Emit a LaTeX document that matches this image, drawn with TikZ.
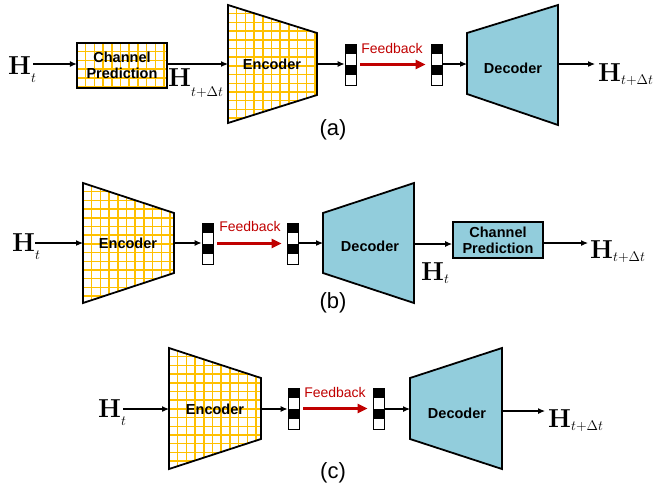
\RequirePackage{fix-cm}
\documentclass[tikz,border=0pt]{standalone}
\usepackage[no-math]{fontspec}
\newfontfamily\arial{Liberation Sans}
\usetikzlibrary{arrows.meta}
\definecolor{gridor}{RGB}{255,192,0}
\definecolor{decblue}{HTML}{92CDDC}
\definecolor{fbred}{HTML}{C00000}
\newcommand\Hsym[2]{{\fontsize{26}{26}\selectfont$\mathbf{H}$}\raisebox{#2}{\fontsize{14}{14}\selectfont$#1$}}
\tikzset{
  arr/.style={-{Latex[length=7pt,width=6pt]}, line width=1.1pt},
  fbarr/.style={-{Triangle[length=10pt,width=9pt]}, line width=2.6pt, draw=fbred},
  blk/.style={font={\arial\bfseries\fontsize{14.5}{16}\selectfont}, align=center, inner sep=0},
  fbtxt/.style={font={\arial\fontsize{14}{14}\selectfont}, text=fbred, inner sep=0},
  captxt/.style={font={\arial\fontsize{22}{22}\selectfont}, inner sep=0},
  hlab/.style={anchor=base west, inner sep=0},
  vecbox/.style={draw, line width=0.9pt, minimum width=11pt, minimum height=41pt, inner sep=0},
  shapeline/.style={line width=1.8pt, line join=miter},
  gridline/.style={draw=gridor, line width=1.5pt},
  decshape/.style={fill=decblue, draw=black, line width=1.8pt, line join=miter}
}
\newcommand\yellowshape[3]{%
  \begin{scope}
    \clip #3;
    \fill[white] (#1,#2) rectangle ++(130,130);
    \begin{scope}[shift={(#1,#2)}]
      \draw[gridline, step=8.7pt] (0pt,0pt) grid (130pt,-130pt);
    \end{scope}
  \end{scope}
  \draw[shapeline] #3;}
\newcommand\codevec[3]{%
  \fill (#2,#3) rectangle ++(11,10.25);
  \fill (#2,{#3+20.5}) rectangle ++(11,10.25);
  \node[vecbox] (#1) at ({#2+5.5},{#3+20.5}) {};}
\begin{document}
\begin{tikzpicture}[x=1pt,y=-1pt]
\useasboundingbox (0,0) rectangle (655,491);

% ---------------- (a) ----------------
\node[hlab] (hta) at (8,74) {\Hsym{t}{-8pt}};
\coordinate (ina) at (33,64);
\yellowshape{77}{43}{(77,43) rectangle (167,88)}
\node[blk, minimum width=90pt, minimum height=45pt] (cpa) at (122,65.5) {Channel\\Prediction};
\draw[arr] (ina) -- (ina -| cpa.west);
\node[hlab] (htda) at (168,86) {\Hsym{t{+}\Delta t}{-10pt}};
\yellowshape{228}{5}{(228,5) -- (317,33) -- (317,95) -- (228,123) -- cycle}
\node[blk] (encA) at (272,64) {Encoder};
\coordinate (encA-w) at (228,64);
\coordinate (encA-e) at (317,64);
\draw[arr] (ina -| cpa.east) -- (encA-w);
\codevec{vA1}{345}{44}
\codevec{vA2}{431}{44}
\draw[arr] (encA-e) -- (encA-e -| vA1.west);
\draw[fbarr] ([xshift=4pt]vA1.east) -- ([xshift=-5pt]vA2.west);
\node[fbtxt] (fbA) at (392,48) {Feedback};
\draw[decshape] (467,33) -- (558,5) -- (558,125) -- (467,94) -- cycle;
\node[blk] (decA) at (513,68) {Decoder};
\coordinate (decA-w) at (467,64);
\coordinate (decA-e) at (558,64);
\draw[arr] (vA2.east |- decA-w) -- (decA-w);
\coordinate (outa) at (595,64);
\draw[arr] (decA-e) -- (outa);
\node[hlab] (htoa) at (598,81) {\Hsym{t{+}\Delta t}{-3pt}};
\node[captxt] (capa) at (333,130) {(a)};

% ---------------- (b) ----------------
\node[hlab] (htb) at (12,251) {\Hsym{t}{-8pt}};
\coordinate (inb) at (35,243);
\yellowshape{83}{183}{(83,183) -- (174,213) -- (174,273) -- (83,303) -- cycle}
\node[blk] (encB) at (128,243) {Encoder};
\coordinate (encB-w) at (83,243);
\coordinate (encB-e) at (174,243);
\draw[arr] (inb) -- (encB-w);
\codevec{vB1}{202}{223}
\codevec{vB2}{287}{223}
\draw[arr] (encB-e) -- (encB-e -| vB1.west);
\draw[fbarr] ([xshift=4pt]vB1.east) -- ([xshift=-5pt]vB2.west);
\node[fbtxt] (fbB) at (250,226) {Feedback};
\draw[decshape] (323,213) -- (414,183) -- (414,303) -- (323,273) -- cycle;
\node[blk] (decB) at (370,246) {Decoder};
\coordinate (decB-w) at (323,243);
\coordinate (decB-e) at (414,244);
\draw[arr] (vB2.east |- decB-w) -- (decB-w);
\node[blk, draw, fill=decblue, line width=1.8pt, minimum width=90pt, minimum height=36pt] (cpb) at (498,240) {Channel\\Prediction};
\draw[arr] (decB-e) -- (decB-e -| cpb.west);
\node[hlab] (htmb) at (421,280) {\Hsym{t}{-3pt}};
\coordinate (outb) at (588,243);
\draw[arr] (outb -| cpb.east) -- (outb);
\node[hlab] (htob) at (590,258) {\Hsym{t{+}\Delta t}{-3pt}};
\node[captxt] (capb) at (333,303) {(b)};

% ---------------- (c) ----------------
\node[hlab] (htc) at (98,417) {\Hsym{t}{-8pt}};
\coordinate (inc) at (123,409);
\yellowshape{169}{348}{(169,348) -- (261,378) -- (261,439) -- (169,469) -- cycle}
\node[blk] (encC) at (215,409) {Encoder};
\coordinate (encC-w) at (169,409);
\coordinate (encC-e) at (261,409);
\draw[arr] (inc) -- (encC-w);
\codevec{vC1}{288}{388}
\codevec{vC2}{373}{388}
\draw[arr] (encC-e) -- (encC-e -| vC1.west);
\draw[fbarr] ([xshift=4pt]vC1.east) -- ([xshift=-5pt]vC2.west);
\node[fbtxt] (fbC) at (335,392) {Feedback};
\draw[decshape] (410,378) -- (502,348) -- (502,469) -- (410,439) -- cycle;
\node[blk] (decC) at (457,413) {Decoder};
\coordinate (decC-w) at (410,409);
\coordinate (decC-e) at (502,411);
\draw[arr] (vC2.east |- decC-w) -- (decC-w);
\coordinate (outc) at (545,411);
\draw[arr] (decC-e) -- (outc);
\node[hlab] (htoc) at (548,427) {\Hsym{t{+}\Delta t}{-3pt}};
\node[captxt] (capc) at (333,473) {(c)};
\end{tikzpicture}
\end{document}
